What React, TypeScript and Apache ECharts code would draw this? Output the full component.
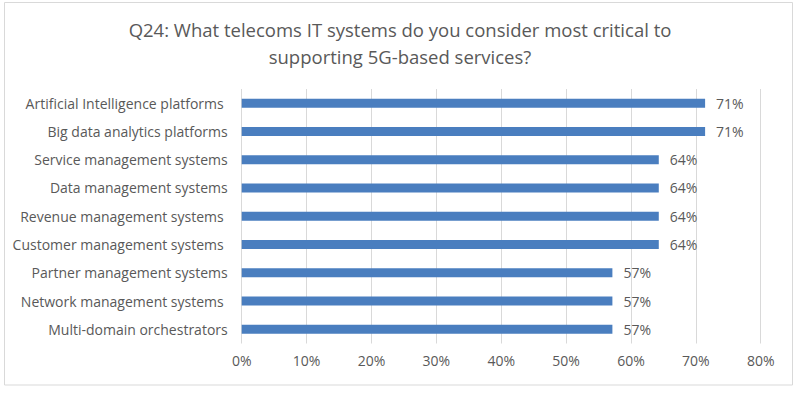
import React, { useEffect, useRef } from "react";
import * as echarts from "echarts";

const titleLines = [
  "Q24: What telecoms IT systems do you consider most critical to",
  "supporting 5G-based services?",
];

const categories = [
  "Artificial Intelligence platforms ",
  "Big data analytics platforms",
  "Service management systems",
  "Data management systems",
  "Revenue management systems ",
  "Customer management systems ",
  "Partner management systems",
  "Network management systems ",
  "Multi-domain orchestrators",
];

const values = [71.43, 71.43, 64.29, 64.29, 64.29, 64.29, 57.14, 57.14, 57.14];

const xMin = 0;
const xMax = 80;
const xInterval = 10;

const FONT = "'Open Sans', Lato, sans-serif";
const TEXT = "#595959";
const LABEL_SIZE = 14;

export default function App() {
  const ref = useRef<HTMLDivElement>(null);
  useEffect(() => {
    if (!ref.current) return;
    const chart = echarts.init(ref.current, null, { renderer: "svg" });
    chart.setOption({
      animation: false,
      backgroundColor: "#ffffff",
      textStyle: { fontFamily: FONT },
      title: {
        text: titleLines.join("\n"),
        left: "center",
        top: 11,
        textStyle: {
          fontFamily: FONT,
          fontSize: 18.5,
          fontWeight: "normal",
          color: TEXT,
          lineHeight: 27,
        },
      },
      graphic: [
        {
          type: "rect",
          shape: { x: 4.5, y: 2.5, width: 788, height: 382.5 },
          style: { fill: "none", stroke: "#D9D9D9", lineWidth: 1 },
          silent: true,
        },
      ],
      grid: { left: 241.7, right: 39.3, top: 89, bottom: 50.5, containLabel: false },
      xAxis: {
        type: "value",
        min: xMin,
        max: xMax,
        interval: xInterval,
        axisLine: { show: false },
        axisTick: { show: false },
        splitLine: { show: true, lineStyle: { color: "#D9D9D9", width: 1 } },
        axisLabel: {
          formatter: (v: number) => `${v}%`,
          color: TEXT,
          fontSize: LABEL_SIZE,
          fontFamily: FONT,
          margin: 10,
        },
      },
      yAxis: {
        type: "category",
        data: categories,
        inverse: true,
        axisLine: { show: false },
        axisTick: { show: false },
        splitLine: { show: false },
        axisLabel: {
          color: TEXT,
          fontSize: LABEL_SIZE,
          fontFamily: FONT,
          margin: 14,
          formatter: (v: string) =>
            v.endsWith(" ") ? `{s|${v.trimEnd()}}` : v,
          rich: {
            s: {
              color: TEXT,
              fontSize: LABEL_SIZE,
              fontFamily: FONT,
              padding: [0, 4, 0, 0],
            },
          },
        },
      },
      series: [
        {
          type: "bar",
          data: values,
          barWidth: 9,
          itemStyle: { color: "#4A7EBF" },
          label: {
            show: true,
            position: "right",
            distance: 11,
            color: TEXT,
            fontSize: LABEL_SIZE,
            fontFamily: FONT,
            formatter: (p: any) => `${Math.round(p.value)}%`,
          },
        },
      ],
    });
    return () => chart.dispose();
  }, []);
  return (
    <div
      ref={ref}
      style={{ position: "fixed", left: 0, top: 0, width: 800, height: 394 }}
    />
  );
}
